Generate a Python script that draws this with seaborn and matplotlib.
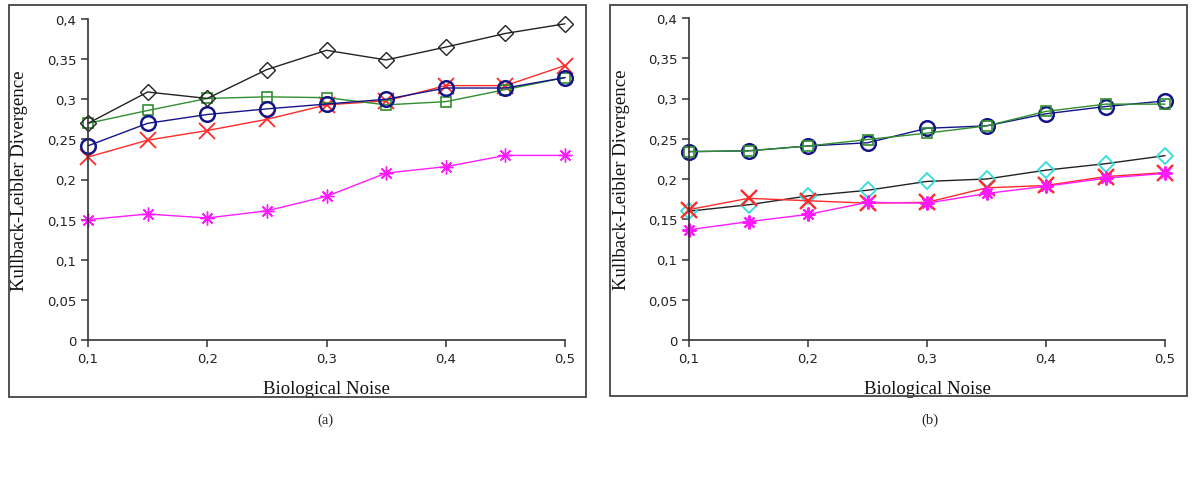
import numpy as np
import pandas as pd
import matplotlib
matplotlib.use("Agg")
import matplotlib.pyplot as plt
from matplotlib.ticker import FuncFormatter, MultipleLocator
from matplotlib.patches import Rectangle
import seaborn as sns

noise = [0.1, 0.15, 0.2, 0.25, 0.3, 0.35, 0.4, 0.45, 0.5]

# Panel (a)
a_black = [0.270, 0.309, 0.301, 0.337, 0.361, 0.349, 0.365, 0.382, 0.394]
a_green = [0.270, 0.286, 0.301, 0.303, 0.302, 0.293, 0.297, 0.312, 0.327]
a_blue = [0.242, 0.270, 0.281, 0.288, 0.294, 0.300, 0.314, 0.314, 0.327]
a_red = [0.228, 0.249, 0.261, 0.275, 0.293, 0.298, 0.317, 0.317, 0.342]
a_magenta = [0.150, 0.157, 0.152, 0.161, 0.179, 0.208, 0.216, 0.230, 0.230]

# Panel (b)
b_blue = [0.234, 0.235, 0.241, 0.245, 0.263, 0.266, 0.281, 0.290, 0.297]
b_green = [0.234, 0.235, 0.241, 0.249, 0.257, 0.266, 0.284, 0.293, 0.293]
b_cyan = [0.160, 0.168, 0.179, 0.186, 0.197, 0.200, 0.211, 0.219, 0.229]
b_red = [0.162, 0.176, 0.173, 0.170, 0.171, 0.189, 0.192, 0.203, 0.208]
b_magenta = [0.137, 0.147, 0.156, 0.171, 0.170, 0.182, 0.191, 0.201, 0.207]

x_label = "Biological Noise"
y_label = "Kullback-Leibler Divergence"
captions = ["(a)", "(b)"]

sns.set_style("ticks")
plt.rcParams["font.family"] = ["DejaVu Sans"]

W, H = 1200, 481
fig = plt.figure(figsize=(12, 4.81), dpi=100)

BLUE = "#14148a"
RED = "#ff2a2a"
GREEN = "#2f8f2f"
BLACK = "#222222"
MAG = "#ff1aff"
CYAN = "#33dddd"

star = (8, 2, 0)

def series_a():
    return [
        (a_magenta, MAG, MAG, star, 10, 1.0),
        (a_red, RED, RED, "x", 11, 1.3),
        (a_green, GREEN, GREEN, "s", 7, 1.2),
        (a_blue, BLUE, BLUE, "o", 10.5, 1.8),
        (a_black, BLACK, BLACK, "D", 8, 1.0),
    ]

def series_b():
    return [
        (b_cyan, BLACK, CYAN, "D", 8, 1.3),
        (b_red, RED, RED, "x", 11, 1.7),
        (b_magenta, MAG, MAG, star, 10, 1.5),
        (b_blue, BLUE, BLUE, "o", 10.5, 1.8),
        (b_green, GREEN, GREEN, "s", 7, 1.2),
    ]

def px_rect(x0, y0, x1, y1):
    return [x0 / W, 1 - y1 / H, (x1 - x0) / W, (y1 - y0) / H]

fmt = FuncFormatter(lambda v, p: ("%g" % round(v, 4)).replace(".", ","))

panels = [
    (px_rect(88, 20, 565, 341), px_rect(9, 6, 586, 398), series_a(), 325),
    (px_rect(689, 19, 1165, 341), px_rect(610, 6, 1187, 397), series_b(), 930),
]

for i, (apos, frame, series, capx) in enumerate(panels):
    fig.patches.append(Rectangle((frame[0], frame[1]), frame[2], frame[3],
                                 transform=fig.transFigure, fill=False,
                                 edgecolor="#444444", linewidth=1.3))
    ax = fig.add_axes(apos)
    for vals, lc, mc, mk, ms, mew in series:
        df = pd.DataFrame({"noise": noise, "kl": vals})
        sns.lineplot(data=df, x="noise", y="kl", ax=ax, color=lc, linewidth=1.0,
                     marker=mk, markersize=ms, markeredgecolor=mc,
                     markerfacecolor="none", markeredgewidth=mew, clip_on=False)
    ax.set_xlim(0.1, 0.5)
    ax.set_ylim(0, 0.4)
    ax.xaxis.set_major_locator(MultipleLocator(0.1))
    ax.yaxis.set_major_locator(MultipleLocator(0.05))
    ax.xaxis.set_major_formatter(fmt)
    ax.yaxis.set_major_formatter(fmt)
    for s in ["top", "right"]:
        ax.spines[s].set_visible(False)
    for s in ["left", "bottom"]:
        ax.spines[s].set_color("#333333")
        ax.spines[s].set_linewidth(1.2)
    ax.tick_params(direction="out", length=5, width=1.1, colors="#333333",
                   labelsize=9.5, labelcolor="#222222")
    ax.set_xlabel(x_label, family="Liberation Serif", fontsize=13.5, color="#111111")
    ax.set_ylabel(y_label, family="Liberation Serif", fontsize=13.5, color="#111111")
    ax.xaxis.set_label_coords(0.5, -0.125)
    ax.yaxis.set_label_coords(-0.125, 0.5)
    ax.set_facecolor("none")
    fig.text(capx / W, 1 - 420 / H, captions[i], family="Liberation Serif",
             fontsize=10.5, ha="center", va="center")

fig.savefig("out.png", dpi=100, facecolor="white")
